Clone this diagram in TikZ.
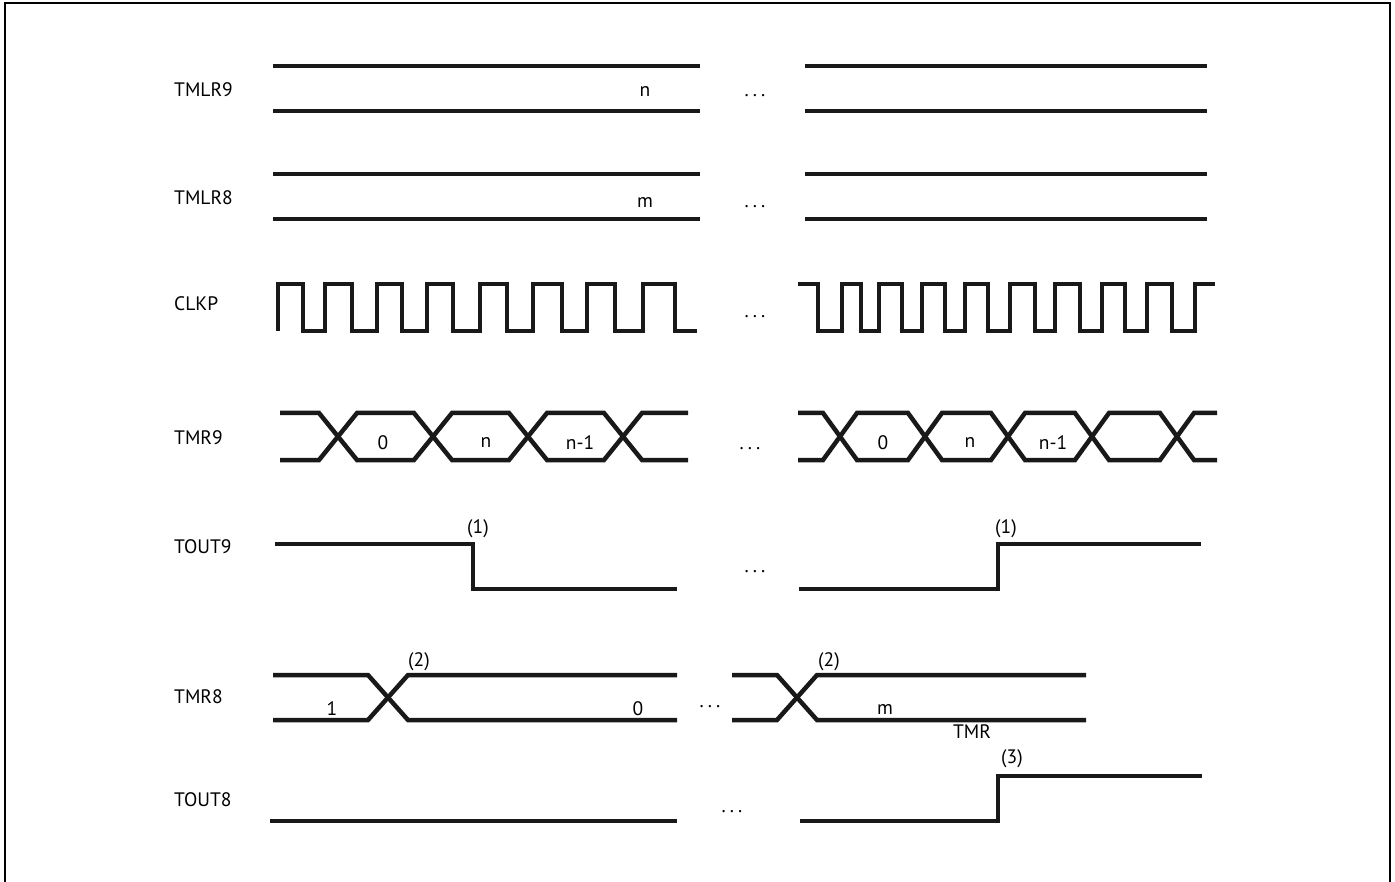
\documentclass[tikz,border=0pt]{standalone}
\usepackage{fontspec}
\setmainfont{PT Sans}
\newcommand{\mydots}{.\kern4pt.\kern4pt.}
\begin{document}
\begin{tikzpicture}[x=1pt,y=-1pt,
  wave/.style={line width=4.5pt, line join=miter, color=black!90},
  frame/.style={line width=1.5pt},
  sig/.style={anchor=west, inner sep=0pt, font=\fontsize{19.5}{22}\selectfont},
  lab/.style={inner sep=0pt, font=\fontsize{19.5}{22}\selectfont},
  dots/.style={inner sep=0pt, font=\fontsize{19.5}{22}\selectfont}]
\useasboundingbox (0,0) rectangle (1395,882);
% frame (open at the bottom)
\draw[frame] (5,882) -- (5,3) -- (1390,3) -- (1390,882);

% signal names
\node[sig] (nTMLR9) at (174,90) {TMLR9};
\node[sig] (nTMLR8) at (174,198) {TMLR8};
\node[sig] (nCLKP)  at (174,304) {CLKP};
\node[sig] (nTMR9)  at (174,438) {TMR9};
\node[sig] (nTOUT9) at (174,547) {TOUT9};
\node[sig] (nTMR8)  at (174,697) {TMR8};
\node[sig] (nTOUT8) at (174,800) {TOUT8};

% TMLR9
\draw[wave] (273,66) -- (700,66) (273,111) -- (700,111);
\draw[wave] (805,66) -- (1207,66) (805,111) -- (1207,111);
\node[lab] (vn) at (645,92) {n};
\node[dots] (d1) at (755,96) {\mydots};

% TMLR8
\draw[wave] (273,174) -- (700,174) (273,219) -- (700,219);
\draw[wave] (805,174) -- (1207,174) (805,219) -- (1207,219);
\node[lab] (vm) at (645,203) {m};
\node[dots] (d2) at (755,207) {\mydots};

% CLKP
\draw[wave] (278,331)--(278,284)--(303,284)--(303,331)--(325,331)--(325,284)--(352,284)--(352,331)--(377,331)--(377,284)--(402,284)--(402,331)--(427,331)--(427,284)--(453,284)--(453,331)--(480,331)--(480,284)--(507,284)--(507,331)--(533,331)--(533,284)--(562,284)--(562,331)--(587,331)--(587,284)--(615,284)--(615,331)--(643,331)--(643,284)--(675,284)--(675,331)--(697,331);
\draw[wave] (798,284)--(818,284)--(818,331)--(842,331)--(842,284)--(861,284)--(861,331)--(879,331)--(879,284)--(902,284)--(902,331)--(922,331)--(922,284)--(945,284)--(945,331)--(965,331)--(965,284)--(988,284)--(988,331)--(1010,331)--(1010,284)--(1035,284)--(1035,331)--(1055,331)--(1055,284)--(1080,284)--(1080,331)--(1102,331)--(1102,284)--(1125,284)--(1125,331)--(1147,331)--(1147,284)--(1172,284)--(1172,331)--(1195,331)--(1195,284)--(1215,284);
\node[dots] (d3) at (755,317) {\mydots};

% TMR9
\draw[wave] (280,413)--(319,413)--(357,460)--(414,460)--(452,413)--(509,413)--(547,460)--(604,460)--(642,413)--(688,413);
\draw[wave] (280,460)--(319,460)--(357,413)--(414,413)--(452,460)--(509,460)--(547,413)--(604,413)--(642,460)--(688,460);
\draw[wave] (798,413)--(823,413)--(857,460)--(908,460)--(942,413)--(991,413)--(1025,460)--(1075,460)--(1109,413)--(1160,413)--(1194,460)--(1217,460);
\draw[wave] (798,460)--(823,460)--(857,413)--(908,413)--(942,460)--(991,460)--(1025,413)--(1075,413)--(1109,460)--(1160,460)--(1194,413)--(1217,413);
\node[lab] (t0a) at (383,443) {0};
\node[lab] (tna) at (486,443) {n};
\node[lab] (tn1a) at (580,443) {n-1};
\node[lab] (t0b) at (883,443) {0};
\node[lab] (tnb) at (970,443) {n};
\node[lab] (tn1b) at (1053,443) {n-1};
\node[dots] (d4) at (750,449) {\mydots};

% TOUT9
\draw[wave] (275,544)--(473,544)--(473,589)--(677,589);
\draw[wave] (799,589)--(998,589)--(998,544)--(1201,544);
\node[lab] (e1a) at (478,529) {(1)};
\node[lab] (e1b) at (1006,529) {(1)};
\node[dots] (d5) at (755,572) {\mydots};

% TMR8
\draw[wave] (273,675)--(368,675)--(408,720)--(677,720);
\draw[wave] (273,720)--(368,720)--(408,675)--(677,675);
\draw[wave] (732,675)--(777,675)--(817,720)--(1086,720);
\draw[wave] (732,720)--(777,720)--(817,675)--(1086,675);
\node[lab] (e2a) at (419,662) {(2)};
\node[lab] (e2b) at (829,662) {(2)};
\node[lab] (v1) at (332,709) {1};
\node[lab] (v0) at (638,709) {0};
\node[lab] (vm2) at (885,710) {m};
\node[lab] (tmr) at (972,732) {TMR};
\node[dots] (d6) at (710,707) {\mydots};

% TOUT8
\draw[wave] (270,821)--(677,821);
\draw[wave] (800,821)--(998,821)--(998,776)--(1202,776);
\node[lab] (e3) at (1012,759) {(3)};
\node[dots] (d7) at (732,812) {\mydots};
\end{tikzpicture}
\end{document}
